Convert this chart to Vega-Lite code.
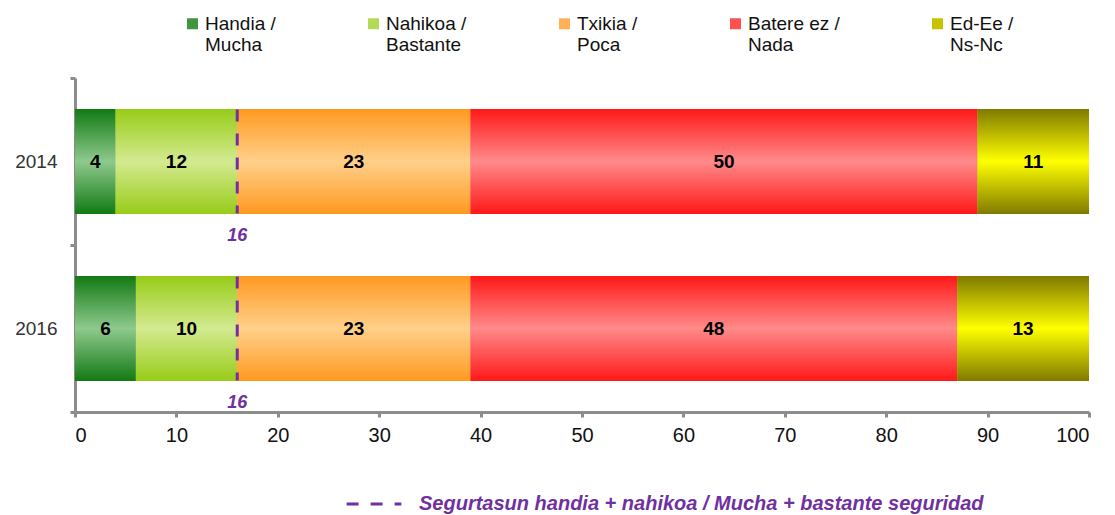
{
  "$schema": "https://vega.github.io/schema/vega-lite/v6.json",
  "width": 1014,
  "height": 334,
  "autosize": {"type": "none"},
  "padding": {"left": 75, "top": 78, "right": 26, "bottom": 103},
  "config": {"font": "Liberation Sans", "view": {"stroke": null}},
  "datasets": {
    "bars": [
      {"year": "2014", "cat": "Handia / Mucha", "k": 1, "value": 4},
      {"year": "2014", "cat": "Nahikoa / Bastante", "k": 2, "value": 12},
      {"year": "2014", "cat": "Txikia / Poca", "k": 3, "value": 23},
      {"year": "2014", "cat": "Batere ez / Nada", "k": 4, "value": 50},
      {"year": "2014", "cat": "Ed-Ee / Ns-Nc", "k": 5, "value": 11},
      {"year": "2016", "cat": "Handia / Mucha", "k": 1, "value": 6},
      {"year": "2016", "cat": "Nahikoa / Bastante", "k": 2, "value": 10},
      {"year": "2016", "cat": "Txikia / Poca", "k": 3, "value": 23},
      {"year": "2016", "cat": "Batere ez / Nada", "k": 4, "value": 48},
      {"year": "2016", "cat": "Ed-Ee / Ns-Nc", "k": 5, "value": 13}
    ],
    "ref": [
      {"year": "2014", "v": 16, "note": "Segurtasun handia + nahikoa / Mucha + bastante seguridad"},
      {"year": "2016", "v": 16, "note": "Segurtasun handia + nahikoa / Mucha + bastante seguridad"}
    ]
  },
  "encoding": {
    "y": {
      "field": "year", "type": "nominal",
      "scale": {"paddingInner": 0, "paddingOuter": 0},
      "axis": {
        "title": null, "labelFontSize": 19, "labelColor": "#333333", "labelPadding": 13,
        "domainColor": "#8c8c8c", "domainWidth": 3, "tickColor": "#8c8c8c", "tickWidth": 3,
        "tickSize": 5, "tickBand": "extent", "grid": false
      }
    }
  },
  "layer": [
    {
      "data": {"name": "bars"},
      "mark": {"type": "bar", "height": {"band": 0.629}},
      "encoding": {
        "x": {
          "field": "value", "type": "quantitative", "stack": "zero",
          "scale": {"domain": [0, 100], "nice": false},
          "axis": {
            "title": null, "values": [0, 10, 20, 30, 40, 50, 60, 70, 80, 90, 100],
            "labelFontSize": 20, "labelColor": "#111111", "labelPadding": 8,
            "domainColor": "#8c8c8c", "domainWidth": 3, "tickColor": "#8c8c8c",
            "tickWidth": 3, "tickSize": 5, "grid": false
          }
        },
        "color": {
          "field": "cat", "type": "nominal",
          "scale": {
            "domain": ["Handia / Mucha", "Nahikoa / Bastante", "Txikia / Poca", "Batere ez / Nada", "Ed-Ee / Ns-Nc"],
            "range": ["#3f963f", "#b2da55", "#ffb255", "#ff5050", "#c4c400"]
          },
          "legend": {
            "orient": "none", "legendX": 108, "legendY": -64, "direction": "horizontal",
            "columns": 5, "title": null, "symbolType": "square", "symbolSize": 121,
            "symbolStrokeWidth": 0, "labelFontSize": 19, "labelColor": "#111111",
            "columnPadding": 88, "padding": 0, "labelOffset": 3, "labelBaseline": "middle",
            "labelExpr": "[split(datum.label, ' / ')[0] + ' /', split(datum.label, ' / ')[1]]"
          }
        },
        "order": {"field": "k", "type": "quantitative"}
      }
    },
    {
      "data": {"name": "bars"},
      "mark": {"type": "bar", "height": {"band": 0.629}},
      "encoding": {
        "x": {"field": "value", "type": "quantitative", "stack": "zero"},
        "detail": {"field": "cat", "type": "nominal"},
        "order": {"field": "k", "type": "quantitative"},
        "fill": {
          "condition": [
            {"test": "datum.cat === 'Handia / Mucha'", "value": {"gradient": "linear", "x1": 0, "y1": 0, "x2": 0, "y2": 1, "stops": [{"offset": 0, "color": "#127a12"}, {"offset": 0.5, "color": "#8ec98e"}, {"offset": 1, "color": "#127a12"}]}},
            {"test": "datum.cat === 'Nahikoa / Bastante'", "value": {"gradient": "linear", "x1": 0, "y1": 0, "x2": 0, "y2": 1, "stops": [{"offset": 0, "color": "#98cc18"}, {"offset": 0.5, "color": "#d3ea90"}, {"offset": 1, "color": "#98cc18"}]}},
            {"test": "datum.cat === 'Txikia / Poca'", "value": {"gradient": "linear", "x1": 0, "y1": 0, "x2": 0, "y2": 1, "stops": [{"offset": 0, "color": "#ff9920"}, {"offset": 0.5, "color": "#ffd08a"}, {"offset": 1, "color": "#ff9920"}]}},
            {"test": "datum.cat === 'Batere ez / Nada'", "value": {"gradient": "linear", "x1": 0, "y1": 0, "x2": 0, "y2": 1, "stops": [{"offset": 0, "color": "#ff1818"}, {"offset": 0.5, "color": "#ff8a8a"}, {"offset": 1, "color": "#ff1818"}]}}
          ],
          "value": {"gradient": "linear", "x1": 0, "y1": 0, "x2": 0, "y2": 1, "stops": [{"offset": 0, "color": "#7f7a00"}, {"offset": 0.5, "color": "#ffff00"}, {"offset": 1, "color": "#7f7a00"}]}
        }
      }
    },
    {
      "data": {"name": "bars"},
      "mark": {"type": "text", "fontSize": 19, "fontWeight": "bold", "color": "#000000"},
      "encoding": {
        "x": {"field": "value", "type": "quantitative", "stack": "zero", "bandPosition": 0.5},
        "detail": {"field": "cat", "type": "nominal"},
        "order": {"field": "k", "type": "quantitative"},
        "text": {"field": "value", "type": "quantitative"}
      }
    },
    {
      "data": {"name": "ref"},
      "mark": {"type": "rule", "color": "#7030a0", "strokeWidth": 3, "yOffset": -52, "y2Offset": 52},
      "encoding": {
        "x": {"field": "v", "type": "quantitative"},
        "y": {"field": "year", "type": "nominal", "bandPosition": 0.5},
        "y2": {"field": "year", "bandPosition": 0.5},
        "strokeDash": {
          "field": "note", "type": "nominal",
          "scale": {"range": [[12, 12]]},
          "legend": {
            "orient": "none", "legendX": 270, "legendY": 397, "title": null,
            "symbolType": "stroke", "symbolStrokeColor": "#7030a0", "symbolStrokeWidth": 3,
            "symbolSize": 3000, "labelFontSize": 20, "labelFontStyle": "italic",
            "labelFontWeight": "bold", "labelColor": "#7030a0", "labelOffset": 16, "padding": 0,
            "labelLimit": 700
          }
        }
      }
    },
    {
      "data": {"name": "ref"},
      "mark": {"type": "text", "fontSize": 18, "fontWeight": "bold", "fontStyle": "italic", "color": "#7030a0", "yOffset": 74},
      "encoding": {
        "x": {"field": "v", "type": "quantitative"},
        "text": {"field": "v", "type": "quantitative"}
      }
    }
  ]
}
